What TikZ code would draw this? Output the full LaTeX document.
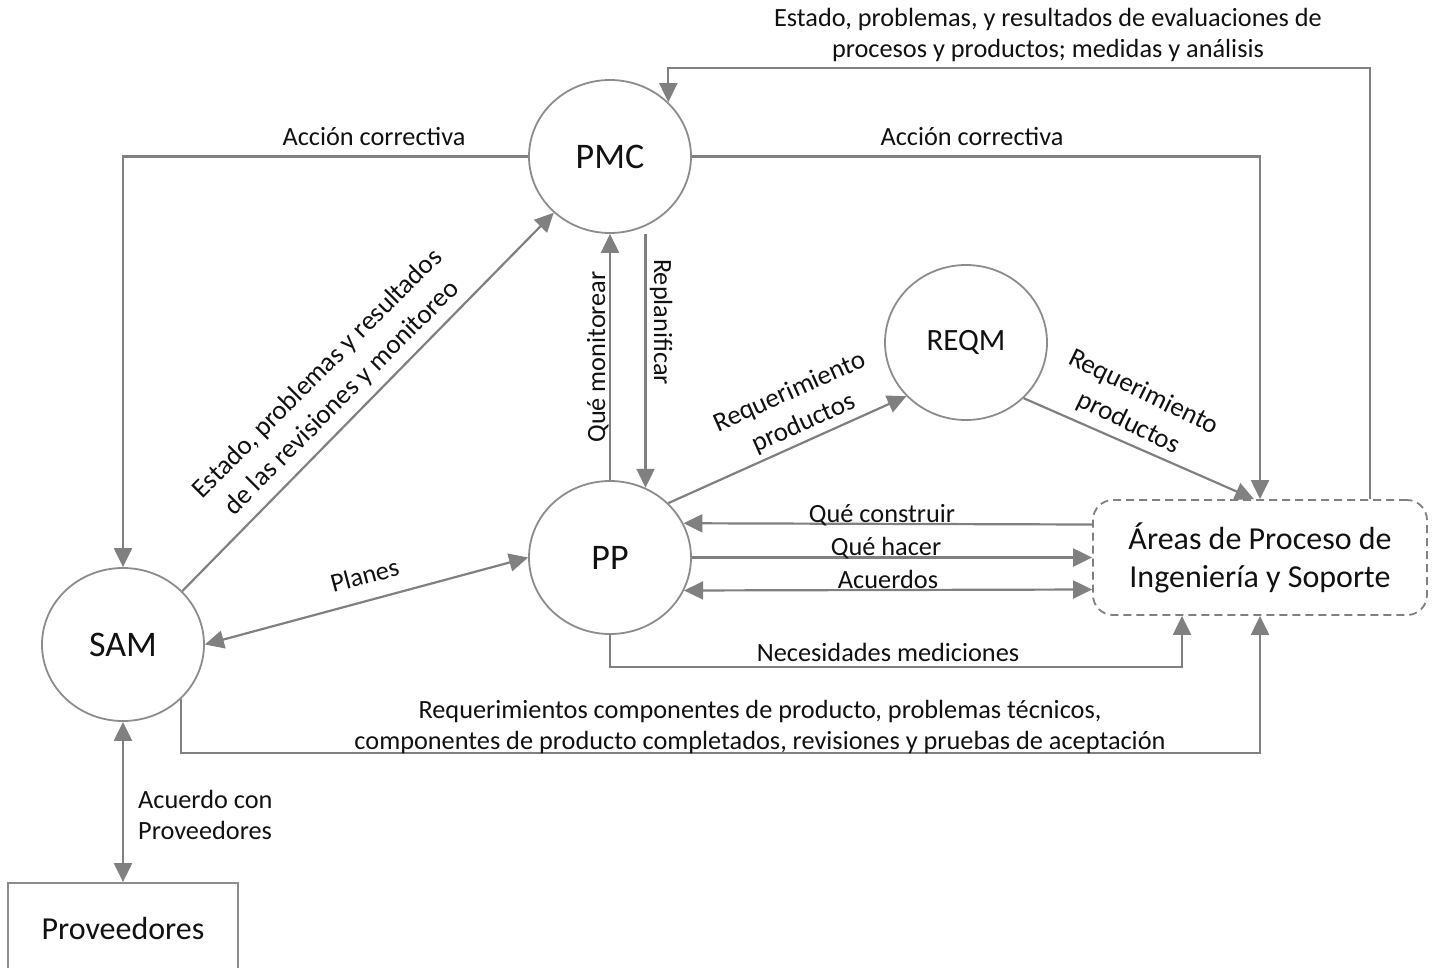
\documentclass[tikz,border=0pt]{standalone}
\usepackage{fontspec}
\setmainfont{Carlito}
\usetikzlibrary{arrows.meta,shapes.geometric,calc}
\definecolor{linegray}{HTML}{808080}
\definecolor{rimgray}{HTML}{8C8C8C}
\definecolor{ink}{HTML}{111111}
\begin{document}
\begin{tikzpicture}[x=1pt,y=-1pt,
  conn/.style={draw=linegray, line width=2.2pt, -{Triangle[length=19pt,width=18pt]}},
  dconn/.style={draw=linegray, line width=2.2pt, {Triangle[length=19pt,width=18pt]}-{Triangle[length=19pt,width=18pt]}},
  proc/.style={ellipse, draw=rimgray, line width=1.8pt, minimum width=162pt,
    minimum height=153pt, inner sep=0pt, text=ink, font=\fontsize{36}{43}\selectfont},
  areabox/.style={rectangle, rounded corners=20pt, draw=linegray, line width=1.8pt,
    dash pattern=on 8pt off 5pt, minimum width=334pt, minimum height=115pt,
    align=center, text=ink, font=\fontsize{32}{38}\selectfont},
  extbox/.style={rectangle, draw=rimgray, line width=1.8pt, minimum width=230pt,
    minimum height=90pt, text=ink, font=\fontsize{32}{38}\selectfont},
  lbl/.style={text=ink, font=\fontsize{26.3}{31}\selectfont, inner sep=0pt},
  slant/.style={text=ink, font=\fontsize{27}{34}\selectfont, inner sep=0pt, align=center},
]
\useasboundingbox (0,0) rectangle (1432,967);

% process circles and external entities
\node[proc] (pmc)  at (610,156.5) {PMC};
\node[proc] (pp)   at (610,557.5) {PP};
\node[proc] (sam)  at (123,644.5) {SAM};
\node[proc, font=\fontsize{31}{37}\selectfont, minimum height=155pt] (reqm) at (966,342.5) {REQM};
\node[areabox] (areas) at (1260,557.5) {Áreas de Proceso de\\Ingeniería y Soporte};
\node[extbox] (prov) at (123,928) {Proveedores};

% routing points
\coordinate (topY) at (1000,68);
\coordinate (necY) at (900,667);
\coordinate (botY) at (700,753);

% feedback from the engineering areas to PMC
\draw[conn] ([xshift=110pt]areas.north) |- (topY) -| (pmc.43);
\node[lbl, align=center] (lTop) at (1048,35)
  {Estado, problemas, y resultados de evaluaciones de\\procesos y productos; medidas y análisis};

% corrective actions
\draw[conn] (pmc.west) -| (sam.north);
\node[lbl, anchor=base] (lAcc1) at (374,145) {Acción correctiva};
\draw[conn] (pmc.east) -| (areas.north);
\node[lbl, anchor=base] (lAcc2) at (972,145) {Acción correctiva};

% SAM status to PMC
\draw[conn] (sam.42) -- (pmc.225);
\node[slant, rotate=45] (lSam) at (330,386)
  {Estado, problemas y resultados\\de las revisiones y monitoreo};

% PP <-> PMC
\draw[conn] (pp.north) -- (pmc.south);
\node[lbl, anchor=base, rotate=90] (lMon) at (605,357) {Qué monitorear};
\draw[conn] (pmc.south -| pp.63) -- (pp.63);
\node[lbl, anchor=base, rotate=-90] (lRep) at (654,322) {Replanificar};

% requirements
\draw[conn] (pp.43) -- (reqm.222);
\node[slant, rotate=24] (lReq1) at (797,408) {Requerimiento\\productos};
\draw[conn] (reqm.-44) -- ([xshift=-6pt]areas.north);
\node[slant, rotate=-26] (lReq2) at (1136,408) {Requerimiento\\productos};

% PP <-> engineering areas
\draw[conn] ([yshift=33pt]areas.west) -- (pp.25);
\node[lbl, anchor=base] (lCon) at (882,522) {Qué construir};
\draw[conn] (pp.east) -- (areas.west);
\node[lbl, anchor=base] (lHac) at (886,555) {Qué hacer};
\draw[dconn] (pp.-24) -- ([yshift=-32pt]areas.west);
\node[lbl, anchor=base] (lAcu) at (888,588) {Acuerdos};
\draw[conn] (pp.south) |- (necY) -| ([xshift=-78pt]areas.south);
\node[lbl, anchor=base] (lNec) at (888,661) {Necesidades mediciones};

% SAM to engineering areas
\draw[conn] (sam.-43) |- (botY) -| (areas.south);
\node[lbl, align=center] (lBot) at (760,727)
  {Requerimientos componentes de producto, problemas técnicos,\\componentes de producto completados, revisiones y pruebas de aceptación};

% plans and supplier agreements
\draw[dconn] (sam.east) -- (pp.west);
\node[lbl, anchor=base, rotate=15] (lPla) at (367,584) {Planes};
\draw[dconn] (sam.south) -- (prov.north);
\node[lbl, align=left, anchor=west] (lAcp) at (138,815) {Acuerdo con\\Proveedores};
\end{tikzpicture}
\end{document}
